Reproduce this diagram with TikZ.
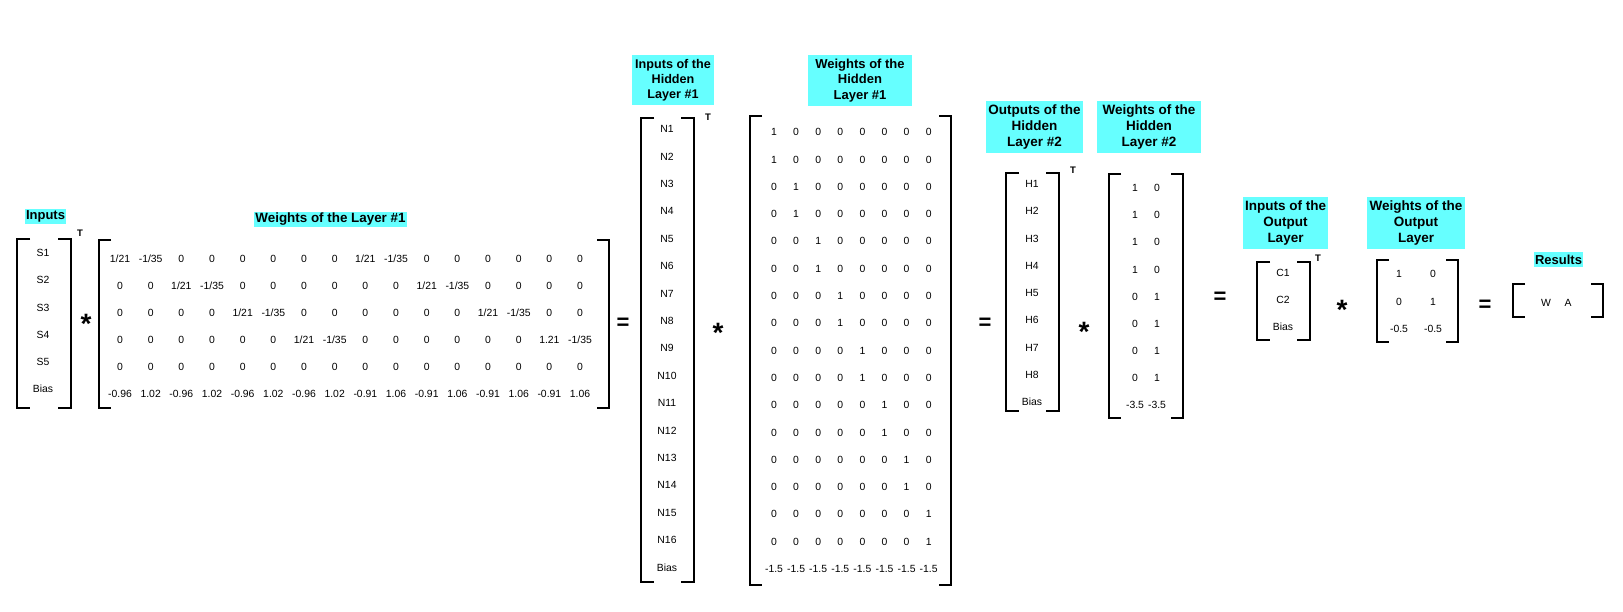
\documentclass[tikz,border=0pt]{standalone}
\usepackage{fontspec}
\setmainfont{Liberation Sans}
\definecolor{labcyan}{RGB}{102,255,255}
\tikzset{
  lbl/.style={fill=labcyan, inner sep=0pt, align=center, font=\bfseries\fontsize{13}{15.5}\selectfont},
  ent/.style={inner sep=0pt, font=\fontsize{10.4}{12}\selectfont, text height=7.4pt, text depth=0pt},
  brk/.style={line width=1.9pt},
  opsym/.style={inner sep=0pt, anchor=base, font=\bfseries\fontsize{22}{22}\selectfont},
  starsym/.style={inner sep=0pt, anchor=base, font=\bfseries\fontsize{28}{28}\selectfont},
  tsup/.style={inner sep=0pt, font=\bfseries\fontsize{9.5}{9.5}\selectfont}
}
\newcommand{\mbr}[5]{%
  \draw[brk] (#1+#5,#3) -- (#1,#3) -- (#1,#4) -- (#1+#5,#4);
  \draw[brk] (#2-#5,#3) -- (#2,#3) -- (#2,#4) -- (#2-#5,#4);}
\begin{document}
\begin{tikzpicture}[x=1pt,y=-1pt]
\useasboundingbox[fill=white] (0,0) rectangle (1623,611);

% ---------- labels ----------
\node[lbl, minimum width=41, minimum height=15] (lInp) at (45.5,216.5) {Inputs};
\node[lbl, minimum width=153, minimum height=15, font=\bfseries\fontsize{13.4}{15.5}\selectfont] (lW1) at (330.5,219.5) {Weights of the Layer \#1};
\node[lbl, minimum width=82, minimum height=50, font=\bfseries\fontsize{12.6}{15}\selectfont] (lN) at (673,80) {Inputs of the\\Hidden\\Layer \#1};
\node[lbl, minimum width=104, minimum height=51] (lWH1) at (860,80.5) {Weights of the\\Hidden\\Layer \#1};
\node[lbl, minimum width=97, minimum height=52, font=\bfseries\fontsize{13.5}{16}\selectfont] (lH) at (1034.5,127) {Outputs of the\\Hidden\\Layer \#2};
\node[lbl, minimum width=104, minimum height=52, font=\bfseries\fontsize{13.5}{16}\selectfont] (lWH2) at (1149,127) {Weights of the\\Hidden\\Layer \#2};
\node[lbl, minimum width=85, minimum height=52, font=\bfseries\fontsize{13.5}{16}\selectfont] (lC) at (1285.5,223) {Inputs of the\\Output\\Layer};
\node[lbl, minimum width=98, minimum height=52, font=\bfseries\fontsize{13.5}{16}\selectfont] (lWO) at (1416,223) {Weights of the\\Output\\Layer};
\node[lbl, minimum width=49, minimum height=15] (lRes) at (1558.5,259.5) {Results};

% ---------- brackets ----------
\mbr{17}{71}{239}{408}{13}
\mbr{99}{609}{240}{408}{12}
\mbr{641}{694}{118}{582}{13}
\mbr{750}{951}{116}{585}{12}
\mbr{1006}{1059}{173}{411}{13}
\mbr{1109}{1183}{174}{418}{12}
\mbr{1257}{1310}{262}{340}{13}
\mbr{1377}{1458}{260}{342}{12}
\mbr{1513}{1603}{284}{317}{12}

% ---------- transposes ----------
\node[tsup] (t1) at (80,233) {T};
\node[tsup] (t2) at (708,117) {T};
\node[tsup] (t3) at (1073,170) {T};
\node[tsup] (t4) at (1318,258) {T};

% ---------- operators ----------
\node[starsym] (op1) at (86,318+15) {*};
\node[opsym] (op2) at (623,322+7.9) {=};
\node[starsym] (op3) at (718,327+15) {*};
\node[opsym] (op4) at (985,322+7.9) {=};
\node[starsym] (op5) at (1084,326+15) {*};
\node[opsym] (op6) at (1220,296+7.9) {=};
\node[starsym] (op7) at (1342,304+15) {*};
\node[opsym] (op8) at (1485,304+7.9) {=};

% ---------- inputs S ----------
\foreach \v [count=\i] in {S1,S2,S3,S4,S5,Bias}
  \node[ent] (s\i) at (43,{253+(\i-1)*27.2}) {\v};

% ---------- W1 ----------
\foreach \row [count=\r] in {
  {1/21,-1/35,0,0,0,0,0,0,1/21,-1/35,0,0,0,0,0,0},
  {0,0,1/21,-1/35,0,0,0,0,0,0,1/21,-1/35,0,0,0,0},
  {0,0,0,0,1/21,-1/35,0,0,0,0,0,0,1/21,-1/35,0,0},
  {0,0,0,0,0,0,1/21,-1/35,0,0,0,0,0,0,1.21,-1/35},
  {0,0,0,0,0,0,0,0,0,0,0,0,0,0,0,0},
  {-0.96,1.02,-0.96,1.02,-0.96,1.02,-0.96,1.02,-0.91,1.06,-0.91,1.06,-0.91,1.06,-0.91,1.06}}
  \foreach \v [count=\c] in \row
    \node[ent] (w\r-\c) at ({120+(\c-1)*30.67},{259+(\r-1)*27}) {\v};

% ---------- N column ----------
\foreach \v [count=\i] in {N1,N2,N3,N4,N5,N6,N7,N8,N9,N10,N11,N12,N13,N14,N15,N16,Bias}
  \node[ent] (n\i) at (667,{129+(\i-1)*27.4}) {\v};

% ---------- WH1 ----------
\foreach \r in {1,...,16}
  \foreach \c in {1,...,8}{
    \pgfmathtruncatemacro{\val}{\c==int((\r+1)/2)}
    \node[ent] (h\r-\c) at ({774+(\c-1)*22.1},{132+(\r-1)*27.3}) {\val};
  }
\foreach \c in {1,...,8}
  \node[ent] (h17-\c) at ({774+(\c-1)*22.1},{132+16*27.3}) {-1.5};

% ---------- H column ----------
\foreach \v [count=\i] in {H1,H2,H3,H4,H5,H6,H7,H8,Bias}
  \node[ent] (hh\i) at (1032,{184+(\i-1)*27.25}) {\v};

% ---------- WH2 ----------
\foreach \a/\b [count=\i] in {1/0,1/0,1/0,1/0,0/1,0/1,0/1,0/1,-3.5/-3.5}{
  \node[ent] (u\i-1) at (1135,{188+(\i-1)*27.1}) {\a};
  \node[ent] (u\i-2) at (1157,{188+(\i-1)*27.1}) {\b};
}

% ---------- C column ----------
\foreach \v [count=\i] in {C1,C2,Bias}
  \node[ent] (c\i) at (1283,{273+(\i-1)*27}) {\v};

% ---------- WO ----------
\foreach \a/\b [count=\i] in {1/0,0/1,-0.5/-0.5}{
  \node[ent] (o\i-1) at (1399,{274+(\i-1)*27.5}) {\a};
  \node[ent] (o\i-2) at (1433,{274+(\i-1)*27.5}) {\b};
}

% ---------- results ----------
\node[ent] (rW) at (1546,303) {W};
\node[ent] (rA) at (1568,303) {A};
\end{tikzpicture}
\end{document}
